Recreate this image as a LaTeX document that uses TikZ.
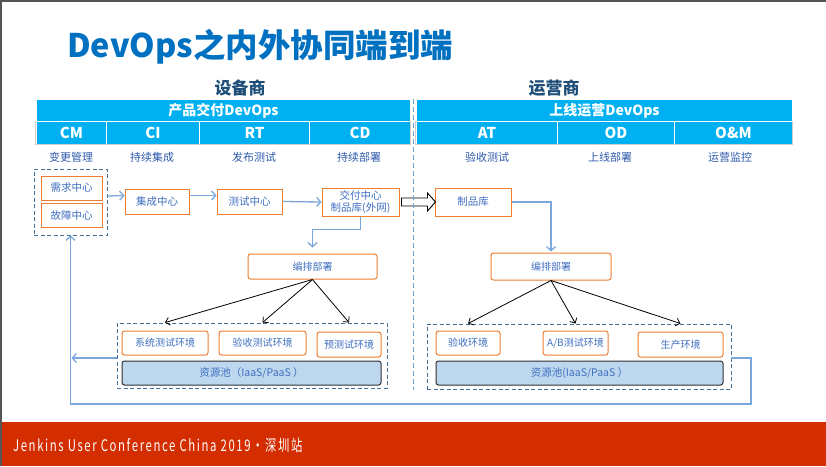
\documentclass[tikz,border=0pt]{standalone}
\usepackage{fontspec}
\usepackage{graphicx}
\setmainfont{Noto Sans CJK SC}
\newfontfamily\footfont{Noto Sans CJK SC}[LetterSpace=14]
\usetikzlibrary{arrows.meta,calc}
\definecolor{titleC}{HTML}{0070C0}
\definecolor{cyanC}{HTML}{00B0F0}
\definecolor{headC}{HTML}{1F4E79}
\definecolor{subC}{HTML}{2E5AAC}
\definecolor{boxT}{HTML}{3F6FC0}
\definecolor{orangeC}{HTML}{ED7D31}
\definecolor{grpC}{HTML}{41719C}
\definecolor{flowC}{HTML}{7AA7DC}
\definecolor{poolF}{HTML}{BDD7EE}
\definecolor{poolD}{HTML}{303030}
\definecolor{footC}{HTML}{D42D00}
\definecolor{frameC}{HTML}{555555}
\definecolor{divC}{HTML}{6FA0D8}
\definecolor{cellB}{HTML}{D0D0D0}
\begin{document}
\begin{tikzpicture}[x=1pt,y=-1pt,
  hdr/.style={fill=cyanC, draw=white, line width=1pt, text=white, inner sep=0pt, anchor=north west, font=\bfseries\fontsize{14}{16}\selectfont},
  sub/.style={text=subC, font=\fontsize{11}{13}\selectfont},
  box/.style={draw=orangeC, line width=1pt, fill=white, text=boxT, inner sep=0pt, align=center, font=\fontsize{10.5}{12.5}\selectfont},
  rbox/.style={box, rounded corners=2.5pt},
  grp/.style={draw=grpC, line width=0.9pt, dash pattern=on 4pt off 2.5pt, inner sep=0pt},
  pool/.style={draw=poolD, fill=poolF, rounded corners=2.5pt, line width=1pt, text=boxT, inner sep=0pt, font=\fontsize{10.5}{12.5}\selectfont},
  flow/.style={draw=flowC, line width=1.3pt, -{Straight Barb[length=4pt,width=9pt]}},
  tree/.style={draw=black, line width=0.8pt, -{Straight Barb[length=4pt,width=8pt]}},
  hollow/.style={draw=black, line width=0.9pt, fill=white}
]
\useasboundingbox (0,0) rectangle (826,466);
\fill[white] (0,0) rectangle (826,466);
\fill[frameC] (0,0) rectangle (826,2);
\fill[frameC] (0,0) rectangle (2,466);

% title
\node[anchor=west, text=titleC, inner sep=0pt, font=\bfseries\fontsize{32.5}{36}\selectfont] (title) at (67,47) {DevOps之内外协同端到端};

% group headings
\node[text=headC, font=\bfseries\fontsize{17}{19}\selectfont] (sbs) at (240,88) {设备商};
\node[text=headC, font=\bfseries\fontsize{17}{19}\selectfont] (yys) at (554,88) {运营商};

% left header
\node[hdr, minimum width=374pt, minimum height=22pt] (hL) at (36,99) {产品交付DevOps};
\node[hdr, minimum width=70pt, minimum height=23pt, font=\bfseries\fontsize{15}{17}\selectfont] (cCM) at (36,121) {CM};
\node[hdr, minimum width=93pt, minimum height=23pt, font=\bfseries\fontsize{15}{17}\selectfont] (cCI) at (106,121) {CI};
\node[hdr, minimum width=110pt, minimum height=23pt, font=\bfseries\fontsize{15}{17}\selectfont] (cRT) at (199,121) {RT};
\node[hdr, minimum width=101pt, minimum height=23pt, font=\bfseries\fontsize{15}{17}\selectfont] (cCD) at (309,121) {CD};
\draw[cellB, line width=0.7pt] (35.5,121) -- (35.5,144.5) -- (410.5,144.5) -- (410.5,121);
% right header
\node[hdr, minimum width=376pt, minimum height=22pt] (hR) at (416,99) {上线运营DevOps};
\node[hdr, minimum width=141pt, minimum height=23pt, font=\bfseries\fontsize{15}{17}\selectfont] (cAT) at (416,121) {AT};
\node[hdr, minimum width=117pt, minimum height=23pt, font=\bfseries\fontsize{15}{17}\selectfont] (cOD) at (557,121) {OD};
\node[hdr, minimum width=118pt, minimum height=23pt, font=\bfseries\fontsize{15}{17}\selectfont] (cOM) at (674,121) {O\&M};
\draw[cellB, line width=0.7pt] (415.5,121) -- (415.5,144.5) -- (792.5,144.5) -- (792.5,121);

% sub labels
\node[sub] (sCM) at (71,157) {变更管理};
\node[sub] (sCI) at (152,157) {持续集成};
\node[sub] (sRT) at (254,157) {发布测试};
\node[sub] (sCD) at (359,157) {持续部署};
\node[sub] (sAT) at (487,157) {验收测试};
\node[sub] (sOD) at (610,157) {上线部署};
\node[sub] (sOM) at (730,157) {运营监控};

% left upper boxes
\node[grp, minimum width=73pt, minimum height=66pt] (cm) at (70.5,202) {};
\node[box, minimum width=61pt, minimum height=24pt] (xq) at (71.5,188) {需求中心};
\node[box, minimum width=61pt, minimum height=24pt] (gz) at (71.5,215) {故障中心};
\node[box, minimum width=64pt, minimum height=25pt] (jc) at (157,201.5) {集成中心};
\node[box, minimum width=65pt, minimum height=25pt] (cs) at (249.5,201.5) {测试中心};
\node[box, minimum width=77pt, minimum height=28pt, font=\fontsize{10.5}{11.5}\selectfont] (jf) at (360.5,202) {交付中心\\制品库(外网)};
\node[rbox, minimum width=129pt, minimum height=25pt, font=\fontsize{10}{12}\selectfont] (bpL) at (312.5,266.5) {编排部署};

% right upper boxes
\node[box, minimum width=76pt, minimum height=28pt] (zp) at (473,202) {制品库};
\node[rbox, minimum width=120pt, minimum height=27pt, font=\fontsize{10}{12}\selectfont] (bpR) at (551,266.5) {编排部署};

% left bottom group
\node[grp, minimum width=270pt, minimum height=65pt] (gL) at (252,355.5) {};
\node[rbox, minimum width=86pt, minimum height=24pt, font=\fontsize{10}{12}\selectfont] (xt) at (165,343) {系统测试环境};
\node[rbox, minimum width=87pt, minimum height=24pt, font=\fontsize{10}{12}\selectfont] (ys) at (262.5,343) {验收测试环境};
\node[rbox, minimum width=64pt, minimum height=25pt, font=\fontsize{10}{12}\selectfont] (yc) at (349,344.5) {预测试环境};
\node[pool, minimum width=259pt, minimum height=24pt] (pL) at (251.5,373) {资源池（IaaS/PaaS ）};

% right bottom group
\node[grp, minimum width=304pt, minimum height=65pt] (gR) at (579,356.5) {};
\node[rbox, minimum width=64pt, minimum height=24pt, font=\fontsize{10}{12}\selectfont] (yh) at (468,343) {验收环境};
\node[rbox, minimum width=65pt, minimum height=24pt, font=\fontsize{10}{12}\selectfont] (ab) at (575.5,343) {A/B测试环境};
\node[rbox, minimum width=85pt, minimum height=25pt, font=\fontsize{10}{12}\selectfont] (sc) at (680.5,344.5) {生产环境};
\node[pool, minimum width=287pt, minimum height=24pt] (pR) at (579.5,373) {资源池(IaaS/PaaS ）};

% flow arrows
\draw[flow] ([yshift=6pt]cm.east) -- ([yshift=6pt]jc.west);
\draw[flow] ([yshift=6pt]jc.east) -- ([yshift=6pt]cs.west);
\draw[flow] (cs.east) -- (jf.west);
\draw[flow, shorten >=6pt] (jf.south) -- ++(0,13) -| (bpL.north);
\draw[flow, shorten >=1pt] (zp.east) -| (bpR.north);

% hollow block arrow
\draw[hollow] ($(jf.east)+(2,-4)$) -- ++(26,0) -- ++(0,-5) -- ++(8,9) -- ++(-8,9) -- ++(0,-5) -- ++(-26,0) -- cycle;

% divider
\draw[divC, line width=1pt, dash pattern=on 5pt off 3pt] (413,99) -- (413,390);

% tree arrows
\draw[tree] (bpL.south) -- (gL.north -| xt.north);
\draw[tree] (bpL.south) -- (gL.north -| ys.north);
\draw[tree] (bpL.south) -- (gL.north -| yc.north);
\draw[tree] (bpR.south) -- (gR.north -| yh.north);
\draw[tree] (bpR.south) -- (gR.north -| ab.north);
\draw[tree] (bpR.south) -- (gR.north -| sc.north);

% feedback loop
\coordinate (fb1) at (751,358);
\coordinate (fb2) at (751,404);
\coordinate (fb3) at (70.5,404);
\draw[flow] (gR.east |- fb1) -- (fb1) -- (fb2) -- (fb3) -- (cm.south);
\draw[flow, shorten >=1pt] (gL.west |- fb1) -- (fb1 -| fb3);

% footer
\fill[footC] (2,422) rectangle (826,466);
\node[anchor=west, text=white, inner sep=0pt] (foot) at (13,445) {\scalebox{0.71}[1]{\footfont\fontsize{16}{18}\selectfont Jenkins User Conference China 2019·深圳站}};
\end{tikzpicture}
\end{document}
